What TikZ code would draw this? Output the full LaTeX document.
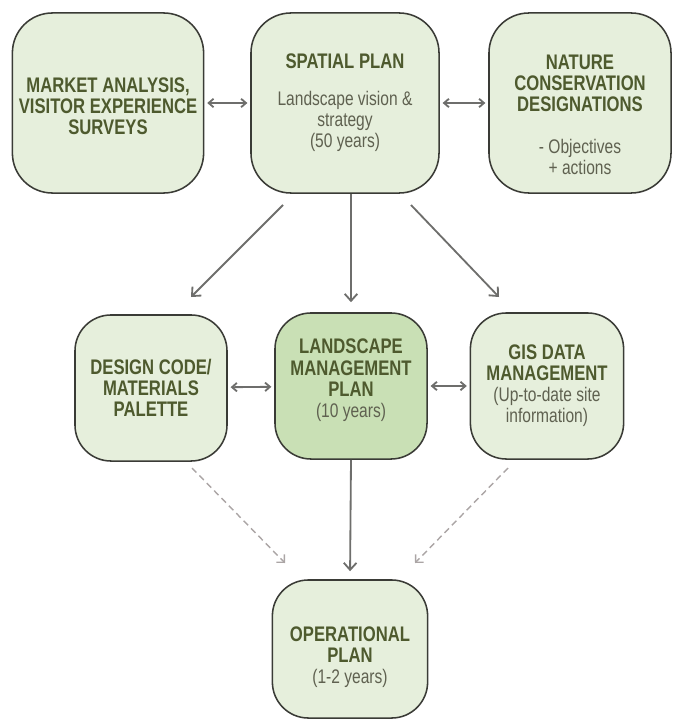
\documentclass[tikz,border=0pt]{standalone}
\usepackage{fontspec}
\setmainfont{Liberation Sans}[FakeStretch=0.79]
\usepackage{xcolor}
\usetikzlibrary{arrows.meta}

\definecolor{boxfill}{HTML}{E6EFDC}
\definecolor{mainfill}{HTML}{C9E0B5}
\definecolor{boxline}{HTML}{3A3B36}
\definecolor{titlecol}{HTML}{4E5A2E}
\definecolor{bodycol}{HTML}{5F6150}
\definecolor{arrowgray}{HTML}{6E6E6C}
\definecolor{dashgray}{HTML}{ABA5A5}

\newcommand{\ttl}{\bfseries\fontsize{15}{15}\selectfont\color{titlecol}}
\newcommand{\bdy}{\mdseries\fontsize{14}{13.4}\selectfont\color{bodycol}}

\begin{document}
\begin{tikzpicture}[x=0.025cm, y=-0.025cm,
    block/.style={draw=boxline, line width=1.1pt, fill=boxfill, rounded corners=1cm,
        align=center, inner sep=0pt, font=\ttl},
    link/.style={-{Straight Barb[length=5pt,width=9pt]}, draw=arrowgray, line width=1.3pt},
    twoway/.style={{Straight Barb[length=3.5pt,width=6pt]}-{Straight Barb[length=3.5pt,width=6pt]},
        draw=arrowgray, line width=1.3pt, shorten <=2pt, shorten >=2pt},
    hint/.style={-{Straight Barb[length=4pt,width=8pt]}, draw=dashgray, line width=1pt,
        dash pattern=on 4.5pt off 3pt}]
    \useasboundingbox (0,0) rectangle (672,722);

    % top row
    \node[block, minimum width=4.78cm, minimum height=4.5cm] (market) at (108,103)
        {\mbox{}\\[0pt]MARKET ANALYSIS,\\VISITOR EXPERIENCE\\SURVEYS};
    \node[block, minimum width=4.7cm, minimum height=4.5cm] (spatial) at (345,103)
        {SPATIAL PLAN\\[11pt]\bdy Landscape vision \&\\\bdy strategy\\\bdy (50 years)};
    \node[block, minimum width=4.55cm, minimum height=4.5cm] (nature) at (580,103)
        {\mbox{}\\[12pt]NATURE\\CONSERVATION\\DESIGNATIONS\\[15pt]\bdy - Objectives\\\bdy + actions};

    % middle row
    \node[block, minimum width=3.8cm, minimum height=3.65cm, rounded corners=0.9cm] (design) at (151,388)
        {DESIGN CODE/\\MATERIALS\\PALETTE};
    \node[block, fill=mainfill, minimum width=3.8cm, minimum height=3.65cm, rounded corners=0.9cm] (lmp) at (351,386)
        {LANDSCAPE\\MANAGEMENT\\PLAN\\\bdy (10 years)\\[-4pt]\mbox{}};
    \node[block, minimum width=3.83cm, minimum height=3.65cm, rounded corners=0.9cm] (gis) at (547,386)
        {GIS DATA\\MANAGEMENT\\\bdy (Up-to-date site\\\bdy information)};

    % bottom
    \node[block, minimum width=3.88cm, minimum height=3.45cm, rounded corners=0.9cm] (op) at (350,649)
        {\mbox{}\\[7.5pt]OPERATIONAL\\PLAN\\\bdy (1-2 years)};

    \draw[twoway] (market) -- (spatial);
    \draw[twoway] (spatial) -- (nature);
    \draw[twoway] (design) -- (lmp);
    \draw[twoway] (lmp) -- (gis);

    % spatial plan feeds the middle row
    \coordinate (sp-l) at (283,205);
    \coordinate (sp-r) at (411,205);
    \coordinate (dc-in) at (191,297);
    \coordinate (gis-in) at (499,297);
    \draw[link] (sp-l) -- (dc-in);
    \draw[link, shorten >=10pt*0.71] (spatial.south -| lmp.north) -- (lmp.north);
    \draw[link] (sp-r) -- (gis-in);

    \draw[link, shorten >=8pt*0.71] (lmp.south) -- (op.north);

    % dashed hints
    \coordinate (dc-out) at (192,468);
    \coordinate (gis-out) at (508,468);
    \coordinate (op-l) at (285,563);
    \coordinate (op-r) at (415,563);
    \draw[hint] (dc-out) -- (op-l);
    \draw[hint] (gis-out) -- (op-r);
\end{tikzpicture}
\end{document}
